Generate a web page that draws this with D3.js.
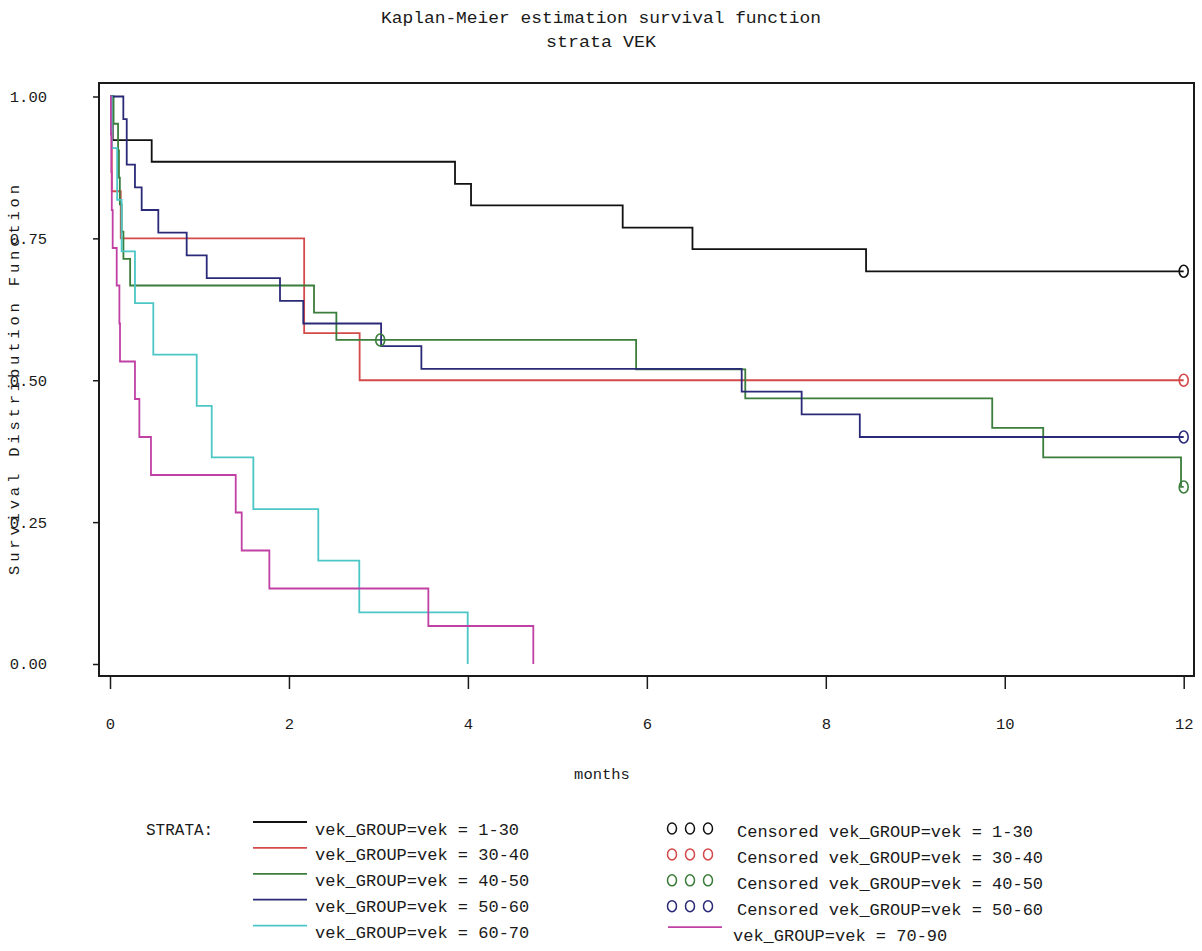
<!DOCTYPE html>
<html>
<head>
<meta charset="utf-8">
<script src="https://cdn.jsdelivr.net/npm/d3@7"></script>
<style>
  html, body { margin: 0; padding: 0; background: #fff; }
  svg { display: block; }
  text { font-family: "Liberation Mono", "DejaVu Sans Mono", monospace; fill: #1a1a1a; }
</style>
</head>
<body>
<svg id="chart" width="1202" height="951"></svg>
<script>
// Kaplan-Meier step estimates per age group (time in months, survival probability)
const groups = ["1-30", "30-40", "40-50", "50-60", "60-70", "70-90"];

const times_1_30 = [0, 0.03, 0.466, 3.856, 4.035, 5.73, 6.51, 8.45, 12];
const surv_1_30  = [1, 0.923, 0.885, 0.846, 0.808, 0.769, 0.731, 0.692, 0.692];

const times_30_40 = [0, 0.02, 0.12, 2.17, 2.79, 12];
const surv_30_40  = [1, 0.833, 0.75, 0.583, 0.5, 0.5];

const times_40_50 = [0, 0.04, 0.09, 0.10, 0.11, 0.13, 0.15, 0.225, 2.28, 2.53, 5.88, 7.10, 9.86, 10.43, 11.97, 12];
const surv_40_50  = [1, 0.952, 0.905, 0.857, 0.810, 0.762, 0.714, 0.667, 0.619, 0.571, 0.519, 0.468, 0.416, 0.364, 0.312, 0.312];

const times_50_60 = [0, 0.149, 0.187, 0.279, 0.354, 0.540, 0.857, 1.081, 1.90, 2.16, 3.03, 3.48, 7.06, 7.73, 8.38, 12];
const surv_50_60  = [1, 0.96, 0.88, 0.84, 0.80, 0.76, 0.72, 0.68, 0.64, 0.60, 0.56, 0.52, 0.48, 0.44, 0.40, 0.40];

const times_60_70 = [0, 0.02, 0.08, 0.13, 0.279, 0.484, 0.969, 1.137, 1.602, 2.328, 2.786, 3.998];
const surv_60_70  = [1, 0.909, 0.818, 0.727, 0.636, 0.545, 0.455, 0.364, 0.273, 0.182, 0.091, 0];

const times_70_90 = [0, 0.01, 0.015, 0.02, 0.03, 0.075, 0.105, 0.112, 0.279, 0.328, 0.458, 1.405, 1.472, 1.781, 3.558, 4.731];
const surv_70_90  = [1, 0.933, 0.867, 0.8, 0.733, 0.667, 0.6, 0.533, 0.467, 0.4, 0.333, 0.267, 0.2, 0.133, 0.067, 0];

// censored observations: group index, time, survival
const censorGroup = [0, 1, 2, 3, 2];
const censorTime  = [12, 12, 12, 12, 3.02];
const censorSurv  = [0.692, 0.5, 0.312, 0.40, 0.571];

const xTicks = [0, 2, 4, 6, 8, 10, 12];
const yTicks = [0, 0.25, 0.5, 0.75, 1];

const colors = ["#111111", "#d44a4a", "#3b7d3b", "#2a2a78", "#4cc6c6", "#c040a4"];

const series = [
  [times_1_30, surv_1_30], [times_30_40, surv_30_40], [times_40_50, surv_40_50],
  [times_50_60, surv_50_60], [times_60_70, surv_60_70], [times_70_90, surv_70_90]
].map(([t, s], i) => ({ name: groups[i], color: colors[i], pts: t.map((v, j) => [v, s[j]]) }));

const svg = d3.select("#chart");

const frame = { left: 99, top: 83, right: 1194, bottom: 676 };
const x = d3.scaleLinear().domain([0, 12]).range([110, 1183.7]);
const y = d3.scaleLinear().domain([0, 1]).range([664, 96.5]);

// titles
svg.append("text").attr("x", 601).attr("y", 23).attr("text-anchor", "middle")
  .attr("font-size", 16).attr("textLength", 440).attr("lengthAdjust", "spacingAndGlyphs")
  .text("Kaplan-Meier estimation survival function");
svg.append("text").attr("x", 601).attr("y", 47).attr("text-anchor", "middle")
  .attr("font-size", 16).attr("textLength", 110).attr("lengthAdjust", "spacingAndGlyphs")
  .text("strata VEK");

// plot frame
svg.append("rect")
  .attr("x", frame.left).attr("y", frame.top)
  .attr("width", frame.right - frame.left).attr("height", frame.bottom - frame.top)
  .attr("fill", "none").attr("stroke", "#1a1a1a").attr("stroke-width", 2);

// axes
const xAxis = svg.append("g").attr("transform", `translate(0,${frame.bottom})`)
  .call(d3.axisBottom(x).tickValues(xTicks).tickFormat(d3.format("d")).tickSize(13).tickPadding(29));
const yAxis = svg.append("g").attr("transform", `translate(${frame.left},0)`)
  .call(d3.axisLeft(y).tickValues(yTicks).tickFormat(d3.format(".2f")).tickSize(6).tickPadding(46));
[xAxis, yAxis].forEach(g => {
  g.select(".domain").remove();
  g.selectAll(".tick line").attr("stroke", "#1a1a1a").attr("stroke-width", 1.5);
  g.selectAll(".tick text").attr("font-family", "Liberation Mono, monospace")
    .attr("font-size", 15.5).attr("fill", "#1a1a1a");
});

// axis titles
svg.append("text").attr("x", 602).attr("y", 779).attr("text-anchor", "middle")
  .attr("font-size", 15.5).text("months");
svg.append("text").attr("transform", "translate(19,380) rotate(-90)").attr("text-anchor", "middle")
  .attr("font-size", 15.5).attr("textLength", 390).attr("lengthAdjust", "spacing")
  .text("Survival Distribution Function");

// survival curves
const line = d3.line().x(d => x(d[0])).y(d => y(d[1])).curve(d3.curveStepAfter);
svg.append("g").selectAll("path").data(series).join("path")
  .attr("d", d => line(d.pts))
  .attr("fill", "none").attr("stroke", d => d.color).attr("stroke-width", 1.8);

// censoring marks
svg.append("g").selectAll("ellipse").data(censorTime.map((t, i) => ({ t, s: censorSurv[i], g: censorGroup[i] })))
  .join("ellipse")
  .attr("cx", d => x(d.t)).attr("cy", d => y(d.s)).attr("rx", 4.5).attr("ry", 6)
  .attr("fill", "none").attr("stroke", d => colors[d.g]).attr("stroke-width", 1.6);

// legend: strata lines
svg.append("text").attr("x", 146).attr("y", 835).attr("font-size", 16).text("STRATA:");
const leftRows = [0, 1, 2, 3, 4];
const lg = svg.append("g");
leftRows.forEach((gi, i) => {
  const ry = 829 + i * 25.9;
  lg.append("line").attr("x1", 253).attr("x2", 307).attr("y1", ry - 7).attr("y2", ry - 7)
    .attr("stroke", colors[gi]).attr("stroke-width", 1.8);
  lg.append("text").attr("x", 315).attr("y", ry + 5.5).attr("font-size", 17)
    .text(`vek_GROUP=vek = ${groups[gi]}`);
});

// legend: censored symbols and last stratum
const rightRows = [0, 1, 2, 3];
rightRows.forEach((gi, i) => {
  const ry = 831.5 + i * 25.9;
  [672, 690, 708].forEach(cx => {
    lg.append("ellipse").attr("cx", cx).attr("cy", ry - 3).attr("rx", 4.5).attr("ry", 5.5)
      .attr("fill", "none").attr("stroke", colors[gi]).attr("stroke-width", 1.5);
  });
  lg.append("text").attr("x", 737).attr("y", ry + 5.5).attr("font-size", 17)
    .text(`Censored vek_GROUP=vek = ${groups[gi]}`);
});
{
  const ry = 831.5 + 4 * 25.9;
  lg.append("line").attr("x1", 668).attr("x2", 722).attr("y1", ry - 8).attr("y2", ry - 8)
    .attr("stroke", colors[5]).attr("stroke-width", 1.8);
  lg.append("text").attr("x", 733).attr("y", ry + 5.5).attr("font-size", 17)
    .text(`vek_GROUP=vek = ${groups[5]}`);
}
</script>
</body>
</html>
